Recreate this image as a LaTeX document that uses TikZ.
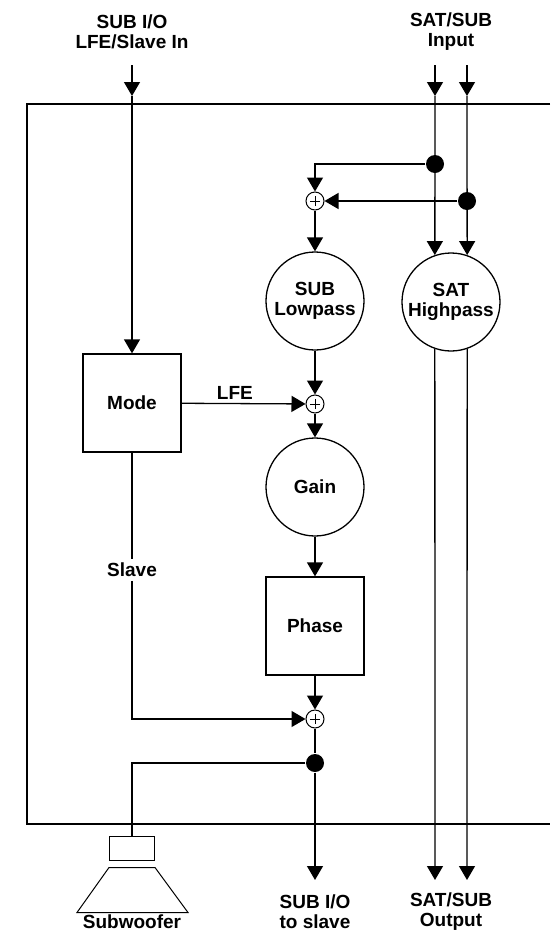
\documentclass[tikz,border=0pt]{standalone}
\usepackage{fontspec}
\setmainfont{Liberation Sans}
\usetikzlibrary{arrows.meta}

\begin{document}
\begin{tikzpicture}[x=1pt,y=-1pt,line width=1.3pt,
    every node/.style={font=\bfseries\fontsize{19}{20}\selectfont, align=center},
    block/.style={draw, minimum width=98pt, minimum height=98pt, inner sep=0pt},
    filter/.style={draw, circle, minimum size=98pt, inner sep=0pt},
    junction/.style={circle, fill, minimum size=18pt, inner sep=0pt},
    summer/.style={draw, circle, line width=1pt, fill=white, minimum size=18pt, inner sep=0pt,
        path picture={\draw[line width=1pt]
            ([xshift=-5pt]path picture bounding box.center) -- ([xshift=5pt]path picture bounding box.center)
            ([yshift=-5pt]path picture bounding box.center) -- ([yshift=5pt]path picture bounding box.center);}},
    sig/.style={-{Triangle[width=16pt,length=14pt]}}]
                        % \helpgrid{3}{3}
                        \useasboundingbox (0,0) rectangle (550,935);

                        % housing, open to the right
                        \draw (550,104) -- (27,104) -- (27,824) -- (550,824);

                        \node (subin) at (132,32) {SUB I/O\\LFE/Slave In};
                        \node (satin) at (451,32) {SAT/SUB\\Input};
                        \coordinate (subtop) at (132,65);
                        \coordinate (subtip) at (132,96);
                        \coordinate (satAtop) at (435,65);
                        \coordinate (satAtip) at (435,96);
                        \coordinate (satBtop) at (467,65);
                        \coordinate (satBtip) at (467,96);

                        \node [junction] (dotA) at (435,164) {};
                        \node [junction] (dotB) at (467,201) {};
                        \node [summer] (sumA) at (315,201) {};
                        \node [filter] (lowpass) at (315,301) {SUB\\Lowpass};
                        \node [filter] (highpass) at (451,302) {SAT\\Highpass};
                        \node [block] (mode) at (132,403) {Mode};
                        \node [summer] (sumB) at (315,404) {};
                        \node [filter] (gain) at (315,487) {Gain};
                        \node [block] (phase) at (315,626) {Phase};
                        \node (slave) at (132,570) {Slave};
                        \node [summer] (sumC) at (315,719) {};
                        \node [junction] (dotC) at (315,763) {};
                        \node [draw, line width=1pt, minimum width=45pt, minimum height=24pt, inner sep=0pt] (driver) at (132,848) {};

                        % inputs
                        \draw [sig] (subtop) -- (subtip);
                        \draw [sig] (subtip) -- (mode);
                        \draw [sig] (satAtop) -- (satAtip);
                        \draw [sig] (satBtop) -- (satBtip);
                        \draw [sig] (satAtip) -- (highpass.109);
                        \draw [sig] (satBtip) -- (highpass.71);
                        \draw [sig] (dotA) -| (sumA);
                        \draw [sig] (dotB) -- (sumA);

                        % sub chain
                        \draw [sig] (sumA) -- (lowpass);
                        \draw [sig] (lowpass) -- (sumB);
                        \draw [sig] (mode) -- node [above,pos=0.43] {LFE} (sumB);
                        \draw [sig] (sumB) -- (gain);
                        \draw [sig] (gain) -- (phase);
                        \draw [sig] (phase) -- (sumC);
                        \draw (mode) -- (slave);
                        \draw [sig] (slave) |- (sumC);
                        \draw (sumC) -- (dotC);
                        \draw (dotC) -| (driver);

                        % outputs
                        \coordinate (subout) at (315,880);
                        \coordinate (satAout) at (435,880);
                        \coordinate (satBout) at (467,880);
                        \draw [sig] (dotC) -- (subout);
                        \draw [sig] (highpass.251) -- (satAout);
                        \draw [sig] (highpass.289) -- (satBout);

                        % cone of the subwoofer
                        \draw [line width=1pt] ([yshift=-7pt]driver.south west) -- ([yshift=-7pt]driver.south east)
                            -- ++(33,45) -- ++(-111,0) -- cycle;
                        \node (woofer) at (132,922) {Subwoofer};
                        \node (subout lbl) at (315,912) {SUB I/O\\to slave};
                        \node (satout lbl) at (451,912) {SAT/SUB\\Output};
                    \end{tikzpicture}
\end{document}
